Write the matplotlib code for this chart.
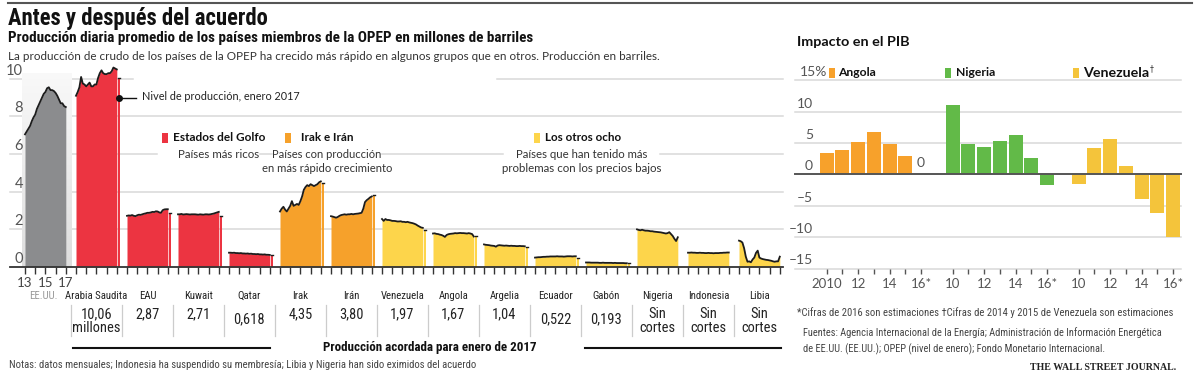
import numpy as np
import matplotlib
matplotlib.use("Agg")
import matplotlib.pyplot as plt
from matplotlib.patches import Rectangle
from matplotlib.lines import Line2D
from matplotlib import font_manager as fm

# ------------------------------------------------------------------ data
countries = ["EE.UU.", "Arabia Saudita", "EAU", "Kuwait", "Qatar", "Irak", "Irán",
             "Venezuela", "Angola", "Argelia", "Ecuador", "Gabón", "Nigeria",
             "Indonesia", "Libia"]
country_group = ["us", "golfo", "golfo", "golfo", "golfo", "irak", "irak",
                 "otros", "otros", "otros", "otros", "otros", "otros", "otros", "otros"]
# months since Jan 2013 (every second month up to the end of 2016)
sample_months = list(range(0, 49, 2))

us_prod = [7.05, 7.2, 7.35, 7.5, 7.75, 7.95, 8.1, 8.4, 8.6, 8.8, 9.0, 9.2, 9.3,
           9.5, 9.55, 9.4, 9.4, 9.35, 9.25, 9.1, 8.9, 8.7, 8.7, 8.55, 8.5]
saudi_prod = [9.1, 9.3, 9.55, 10.1, 9.75, 9.7, 9.6, 9.7, 9.8, 9.6, 9.6, 9.7, 9.7,
              10.05, 10.3, 10.45, 10.3, 10.25, 10.25, 10.3, 10.3, 10.4, 10.6, 10.55, 10.5]
uae_prod = [2.72, 2.74, 2.73, 2.76, 2.72, 2.70, 2.75, 2.78, 2.77, 2.80, 2.83, 2.85, 2.88,
            2.88, 2.90, 2.93, 2.92, 2.96, 2.95, 2.90, 2.88, 3.02, 3.06, 3.07, 3.07]
kuwait_prod = [2.80, 2.80, 2.82, 2.79, 2.80, 2.81, 2.80, 2.79, 2.80, 2.80, 2.80, 2.79, 2.78,
               2.80, 2.79, 2.78, 2.80, 2.80, 2.79, 2.80, 2.82, 2.84, 2.87, 2.90, 2.93]
qatar_prod = [0.76, 0.76, 0.75, 0.76, 0.74, 0.74, 0.73, 0.74, 0.72, 0.72, 0.71, 0.72, 0.70,
              0.71, 0.69, 0.69, 0.68, 0.69, 0.67, 0.67, 0.66, 0.67, 0.65, 0.65, 0.64]
iraq_prod = [2.95, 3.1, 3.2, 3.05, 2.95, 3.1, 3.25, 3.5, 3.25, 3.3, 3.35, 3.3, 3.5,
             3.75, 4.1, 4.25, 4.35, 4.3, 4.4, 4.35, 4.3, 4.35, 4.4, 4.5, 4.55]
iran_prod = [2.7, 2.68, 2.65, 2.62, 2.66, 2.72, 2.76, 2.78, 2.8, 2.78, 2.8, 2.8, 2.82,
             2.8, 2.82, 2.83, 2.84, 2.86, 2.88, 3.1, 3.45, 3.55, 3.62, 3.7, 3.75]
venezuela_prod = [2.55, 2.45, 2.55, 2.5, 2.5, 2.48, 2.45, 2.45, 2.44, 2.42, 2.42, 2.43, 2.4,
                  2.4, 2.38, 2.4, 2.37, 2.35, 2.33, 2.3, 2.26, 2.2, 2.15, 2.1, 2.08]
angola_prod = [1.78, 1.79, 1.76, 1.75, 1.72, 1.70, 1.66, 1.60, 1.70, 1.74, 1.76, 1.77, 1.78,
               1.80, 1.79, 1.80, 1.81, 1.80, 1.80, 1.79, 1.78, 1.80, 1.78, 1.75, 1.62]
algeria_prod = [1.20, 1.18, 1.17, 1.16, 1.14, 1.13, 1.12, 1.08, 1.14, 1.16, 1.15, 1.14, 1.13,
                1.14, 1.13, 1.12, 1.13, 1.12, 1.12, 1.11, 1.11, 1.12, 1.11, 1.11, 1.10]
ecuador_prod = [0.50, 0.51, 0.52, 0.52, 0.53, 0.54, 0.54, 0.55, 0.55, 0.56, 0.56, 0.56, 0.56,
                0.57, 0.56, 0.56, 0.56, 0.55, 0.56, 0.57, 0.57, 0.57, 0.56, 0.57, 0.57]
gabon_prod = [0.24, 0.24, 0.24, 0.23, 0.23, 0.23, 0.23, 0.23, 0.22, 0.22, 0.23, 0.22, 0.22,
              0.22, 0.22, 0.22, 0.21, 0.22, 0.21, 0.21, 0.21, 0.21, 0.21, 0.20, 0.20]
nigeria_prod = [2.00, 1.97, 1.95, 1.98, 1.95, 1.93, 1.93, 1.92, 1.90, 1.90, 1.88, 1.87, 1.86,
                1.85, 1.84, 1.82, 1.80, 1.78, 1.80, 1.85, 1.75, 1.65, 1.50, 1.38, 1.58]
indonesia_prod = [0.76, 0.76, 0.77, 0.76, 0.76, 0.75, 0.75, 0.76, 0.75, 0.75, 0.74, 0.74, 0.75,
                  0.74, 0.74, 0.73, 0.74, 0.74, 0.74, 0.75, 0.75, 0.76, 0.76, 0.77, 0.77]
libya_prod = [1.40, 1.37, 1.30, 1.00, 0.55, 0.28, 0.30, 0.25, 0.40, 0.50, 0.75, 0.87, 0.50,
              0.45, 0.42, 0.40, 0.38, 0.37, 0.35, 0.33, 0.30, 0.28, 0.30, 0.30, 0.55]

production = [us_prod, saudi_prod, uae_prod, kuwait_prod, qatar_prod, iraq_prod, iran_prod,
              venezuela_prod, angola_prod, algeria_prod, ecuador_prod, gabon_prod,
              nigeria_prod, indonesia_prod, libya_prod]

jan2017_level = [None, 10.05, 2.89, 2.72, 0.64, 4.45, 3.83, 1.97, 1.65, 1.05, 0.50, 0.20,
                 None, None, None]
agreed_quota = ["", "10,06\nmillones", "2,87", "2,71", "0,618", "4,35", "3,80", "1,97",
                "1,67", "1,04", "0,522", "0,193", "Sin\ncortes", "Sin\ncortes", "Sin\ncortes"]

left_yticks = [0, 2, 4, 6, 8, 10]
us_year_ticks = {0: "13", 2: "15", 4: "17"}

gdp_countries = ["Angola", "Nigeria", "Venezuela"]
gdp_years = ["2010", "2011", "2012", "2013", "2014", "2015", "2016"]
gdp_year_labels = [["2010", "", "12", "", "14", "", "16*"],
                   ["10", "", "12", "", "14", "", "16*"],
                   ["10", "", "12", "", "14", "", "16*"]]
angola_gdp = [3.4, 3.9, 5.2, 6.8, 4.8, 3.0, 0.0]
nigeria_gdp = [11.0, 4.9, 4.3, 5.4, 6.3, 2.7, -1.7]
venezuela_gdp = [-1.5, 4.2, 5.6, 1.3, -3.9, -6.2, -10.0]
gdp_values = [angola_gdp, nigeria_gdp, venezuela_gdp]
gdp_yticks = [15, 10, 5, 0, -5, -10, -15]

# ------------------------------------------------------------------ fonts
SANS = ["Lato", "DejaVu Sans"]


def pick_condensed(bold):
    prefs = ["Liberation Sans Narrow", "Roboto Condensed", "Open Sans Condensed",
             "Noto Sans Condensed", "DejaVu Sans Condensed", "DejaVu Sans"]
    cands = []
    for f in fm.fontManager.ttflist:
        narrow = ("Narrow" in f.name or "Condensed" in f.name or
                  "ondensed" in str(f.stretch) or "Narrow" in f.fname or "Condensed" in f.fname)
        if not narrow or "Oblique" in f.fname or "Italic" in f.fname:
            continue
        w = f.weight if isinstance(f.weight, int) else {"bold": 700}.get(f.weight, 400)
        if bold and w < 600:
            continue
        if not bold and w >= 600:
            continue
        cands.append(f)
    for p in prefs:
        for f in cands:
            if f.name == p:
                return fm.FontProperties(fname=f.fname)
    if cands:
        return fm.FontProperties(fname=cands[0].fname)
    return None


NARROW_FP = pick_condensed(False)
NARROWB_FP = pick_condensed(True)

# ------------------------------------------------------------------ style
group_color = {"us": "#8b8c8e", "golfo": "#ec3441", "irak": "#f6a12b", "otros": "#fdd54b"}
gdp_color = ["#f7a12b", "#62ba48", "#f4c43b"]
GRID = "#d9d9d9"
TICKC = "#555555"

W, H = 1200, 386
fig = plt.figure(figsize=(W / 100, H / 100), dpi=100)
renderer = fig.canvas.get_renderer()


def T(px, py, s, width=None, size=9, ha="left", va="center", narrow=False, bold=False, **kw):
    fp = None
    if narrow:
        fp = NARROWB_FP if bold else NARROW_FP
    if fp is not None:
        fp = fp.copy()
        fp.set_size(size)
        t = fig.text(px / W, 1 - py / H, s, fontproperties=fp, ha=ha, va=va, **kw)
    else:
        kw.setdefault("family", SANS)
        t = fig.text(px / W, 1 - py / H, s, fontsize=size, ha=ha, va=va,
                     weight="bold" if bold else "normal", **kw)
    if width:
        bb = t.get_window_extent(renderer)
        t.set_fontsize(size * width / bb.width)
    return t


def fig_line(x0, x1, y0, y1, **kw):
    fig.add_artist(Line2D([x0 / W, x1 / W], [1 - y0 / H, 1 - y1 / H], **kw))


def fig_rect(x, y, w, h, color):
    fig.add_artist(Rectangle((x / W, 1 - (y + h) / H), w / W, h / H, color=color, lw=0))


# ------------------------------------------------------------------ header
fig_line(8, 1192, 3, 3, color="#555555", lw=1.5)
T(8, 18, "Antes y después del acuerdo", width=260, size=15, bold=True, narrow=True,
  color="#111111")
T(8, 38, "Producción diaria promedio de los países miembros de la OPEP en millones de barriles",
  width=527, size=9.5, bold=True, narrow=True, color="#111111")
T(8, 57, "La producción de crudo de los países de la OPEP ha crecido más rápido en algunos "
         "grupos que en otros. Producción en barriles.",
  width=649, size=9.5, color="#333333")

# ------------------------------------------------------------------ left chart
PX0, PXU, PY0, PYU = 25.0, 10.2, 267.0, 18.82


def u_of(px):
    return (px - PX0) / PXU


axL = fig.add_axes([0, 1 - PY0 / H, 790 / W, (PY0 - 60) / H])
for s in axL.spines.values():
    s.set_visible(False)
axL.set_facecolor("none")

grid_segments = {10: [(10, 133), (497, 783)], 8: [(10, 783)],
                 6: [(10, 157), (260, 272), (382, 503), (660, 783)],
                 4: [(10, 783)], 2: [(10, 783)]}
for val, segs in grid_segments.items():
    for a, b in segs:
        axL.plot([u_of(a), u_of(b)], [val, val], color=GRID, lw=1.1, zorder=0.5)

grad = np.linspace(0.975, 0.87, 60).reshape(-1, 1)
band = np.dstack([grad, grad, grad])
axL.imshow(band, extent=[u_of(22), u_of(72), 0, 10.3], aspect="auto", zorder=1,
           interpolation="bilinear")

for i, (vals, grp) in enumerate(zip(production, country_group)):
    off = 5 * i
    x = off + np.array(sample_months) / 12.0
    col = group_color[grp]
    axL.fill_between(x, 0, vals, color=col, lw=0, zorder=2)
    axL.plot(x, vals, color="#1c1c1c", lw=1.3, zorder=3, solid_joinstyle="round")
    if jan2017_level[i] is not None:
        axL.bar(off + 4.2, jan2017_level[i], width=0.2, color=col, lw=0, zorder=2)
        axL.plot([off + 4.1, off + 4.3], [jan2017_level[i]] * 2, color="#1c1c1c", lw=1, zorder=3)

axL.plot([u_of(10), u_of(783)], [0, 0], color="#333333", lw=1.3, zorder=5, clip_on=False)
ticks = np.arange(0, 75)
axL.set_xticks(ticks)
axL.set_xticklabels([us_year_ticks.get(k, "") for k in ticks])
axL.tick_params(axis="x", length=5, width=1, color="#333333", direction="out", pad=2,
                labelsize=9.5, labelcolor="#444444")
for lab in axL.get_xticklabels():
    lab.set_family(SANS)
axL.set_yticks([])
axL.set_xlim(u_of(0), u_of(790))
axL.set_ylim(0, 11)

for v in left_yticks:
    T(23, PY0 - v * PYU - 1, str(v), size=10.5, ha="right", va="bottom", color=TICKC)

axL.plot([9.2], [9.0], "o", ms=4, color="#111111", zorder=6)
axL.plot([9.2, u_of(136)], [9.0, 9.0], color="#111111", lw=1, zorder=6)
T(142, 97, "Nivel de producción, enero 2017", width=158, size=9.5, color="#222222")

fig_rect(162, 133, 6, 10, group_color["golfo"])
T(173, 138, "Estados del Golfo", width=92, size=9.5, bold=True, color="#111111")
T(219, 154, "Países más ricos", width=82, size=9.5, ha="center", color="#333333")
fig_rect(285, 133, 6, 10, group_color["irak"])
T(301, 138, "Irak e Irán", width=52, size=9.5, bold=True, color="#111111")
T(327, 154, "Países con producción", width=109, size=9.5, ha="center", color="#333333")
T(327, 169, "en más rápido crecimiento", width=130, size=9.5, ha="center", color="#333333")
fig_rect(534, 133, 6, 10, group_color["otros"])
T(545, 138, "Los otros ocho", width=77, size=9.5, bold=True, color="#111111")
T(582, 154, "Países que han tenido más", width=133, size=9.5, ha="center", color="#333333")
T(582, 169, "problemas con los precios bajos", width=159, size=9.5, ha="center",
  color="#333333")

# country names: common size chosen so "Arabia Saudita" roughly fills its panel
probe = T(0, 0, "Arabia Saudita", size=10, narrow=True)
name_size = min(9.5, 10 * 62 / probe.get_window_extent(renderer).width)
probe.remove()
for i, name in enumerate(countries):
    cx = PX0 + PXU * (5 * i + 2) - (2 if i == 0 else 0)
    T(cx, 296, name, size=name_size, ha="center", narrow=True,
      color="#9a9a9a" if i == 0 else "#222222")

# agreed production row: common size chosen from the width of "10,06"
probe = T(0, 0, "10,06", size=10, narrow=True)
val_size = 10 * 31 / probe.get_window_extent(renderer).width
probe.remove()
for i, lab in enumerate(agreed_quota):
    if not lab:
        continue
    cx = PX0 + PXU * (5 * i + 2)
    parts = lab.split("\n")
    if len(parts) == 2:
        T(cx, 314, parts[0], size=val_size, ha="center", narrow=True, color="#222222")
        T(cx, 327.5, parts[1], size=val_size, ha="center", narrow=True, color="#222222")
    else:
        py = 319.5 if lab.startswith("0,") else 314
        T(cx, py, lab, size=val_size, ha="center", narrow=True, color="#222222")
for i in range(1, 15):
    sx = 20 + 51 * i
    fig_line(sx, sx, 305, 336, color="#cccccc", lw=0.9)

fig_line(73, 270, 348, 348, color="#111111", lw=1.5)
fig_line(585, 781, 348, 348, color="#111111", lw=1.5)
T(430, 347, "Producción acordada para enero de 2017", width=214, size=9.5, ha="center",
  bold=True, narrow=True, color="#111111")
T(9, 365, "Notas: datos mensuales; Indonesia ha suspendido su membresía; Libia y Nigeria han "
          "sido eximidos del acuerdo", width=467, size=8, narrow=True, color="#444444")

# ------------------------------------------------------------------ right chart
RX0, RXU = 826.6, 15.75
R_TOP, R_BOT = 80.4, 268.5
axR = fig.add_axes([795 / W, 1 - R_BOT / H, (1181 - 795) / W, (R_BOT - R_TOP) / H])
for s in axR.spines.values():
    s.set_visible(False)
axR.set_facecolor("none")
for v in gdp_yticks:
    if v == 0:
        axR.axhline(0, color="#555555", lw=1.4, zorder=4, clip_on=False)
    else:
        axR.axhline(v, color=GRID, lw=1.1, zorder=0.5, clip_on=False)

pos_all, lab_all = [], []
for g, (vals, col) in enumerate(zip(gdp_values, gdp_color)):
    pos = 8 * g + np.arange(len(vals))
    axR.bar(pos, vals, width=0.9, color=col, lw=0, zorder=2)
    for p, v in zip(pos, vals):
        if v == 0:
            axR.text(p, 0.9, "0", ha="center", va="bottom", fontsize=10, color=TICKC,
                     family=SANS)
    pos_all.extend(pos)
    lab_all.extend(gdp_year_labels[g])
axR.set_xticks(pos_all)
axR.set_xticklabels(lab_all)
axR.tick_params(axis="x", length=3.5, width=1, color="#555555", direction="out", pad=3,
                labelsize=9.5, labelcolor=TICKC)
for lab in axR.get_xticklabels():
    lab.set_family(SANS)
axR.set_yticks([])
axR.set_xlim((795 - RX0) / RXU, (1181 - RX0) / RXU)
axR.set_ylim(-15, 15)

RPYU = (R_BOT - R_TOP) / 30.0
for v in gdp_yticks:
    py = R_TOP + (15 - v) * RPYU - 2
    txt = str(v).replace("-", "\u2013")
    if v == 15:
        T(800, py, txt + "%", size=10, ha="left", va="bottom", color=TICKC)
    else:
        T(813, py, txt, size=10, ha="right", va="bottom", color=TICKC)

T(797, 42, "Impacto en el PIB", width=113, size=10, bold=True, color="#111111")
legend_x = [(829, 838, 38), (945, 956, 39), (1073, 1083, 66)]
for (rx, tx, tw), name, col in zip(legend_x, gdp_countries, gdp_color):
    fig_rect(rx, 68, 6, 10, col)
    T(tx, 73, name, width=tw, size=9.5, bold=True, color="#111111")
T(1150, 69, "\u2020", size=5.5, family=["DejaVu Sans"], color="#333333")

T(797, 313, "*Cifras de 2016 son estimaciones \u2020Cifras de 2014 y 2015 de Venezuela son "
            "estimaciones", width=378, size=8, narrow=True, color="#444444")
f1 = T(803, 333, "Fuentes: Agencia Internacional de la Energía; Administración de Información "
                 "Energética", width=360, size=8, narrow=True, color="#444444")
f2 = T(803, 349, "de EE.UU. (EE.UU.); OPEP (nivel de enero); Fondo Monetario Internacional.",
       size=8, narrow=True, color="#444444")
f2.set_fontsize(f1.get_fontsize())
T(1176, 367, "THE WALL STREET JOURNAL.", width=146, size=8, ha="right", bold=True,
  family=["Liberation Serif", "DejaVu Serif"], color="#222222")

fig.savefig("out.png", dpi=100)
